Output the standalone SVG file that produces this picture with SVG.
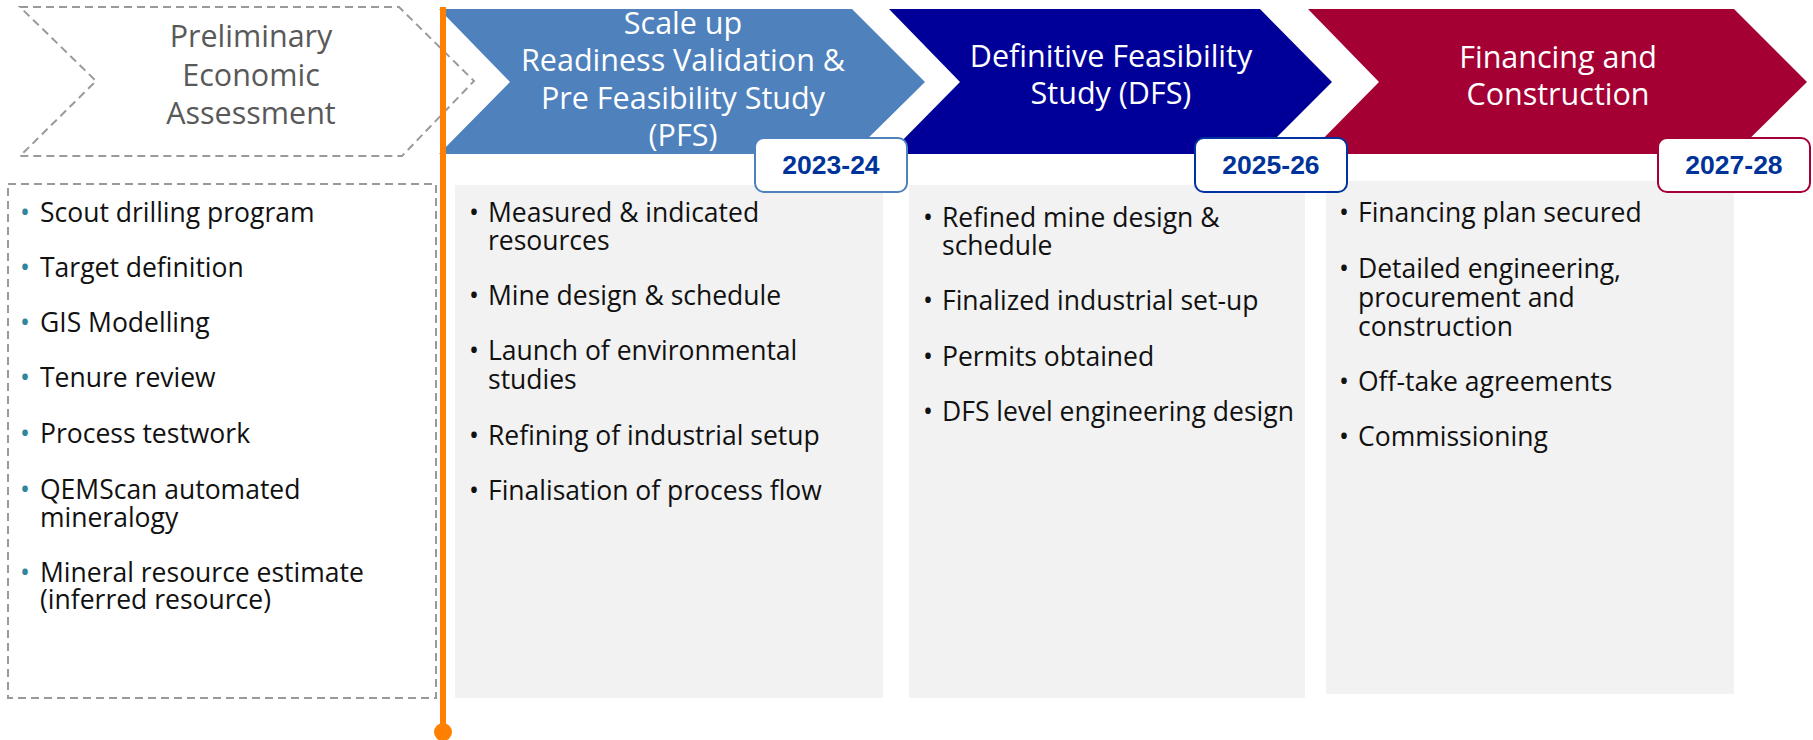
<svg xmlns="http://www.w3.org/2000/svg" width="1813" height="740" viewBox="0 0 1813 740">
<style>
.hd{font-family:"Open Sans","Noto Sans",sans-serif;font-size:30.5px;fill:#fff;text-anchor:middle}
.hdg{font-family:"Open Sans","Noto Sans",sans-serif;font-size:30.5px;fill:#595959;text-anchor:middle}
.bd{font-family:"Open Sans","Noto Sans",sans-serif;font-size:26.5px;fill:#111}
.tb{fill:#31859C}
.yr{font-family:"Liberation Sans",Arial,sans-serif;font-weight:bold;font-size:26.5px;fill:#003399;text-anchor:middle}
.dash{fill:none;stroke:#9a9a9a;stroke-width:2;stroke-dasharray:8 5}
.gbox{fill:#F2F2F2}
.ybox{fill:#fff;stroke-width:2}
</style>
<rect width="1813" height="740" fill="#fff"/>

<g id="pea">
  <path class="dash" d="M20 7 L399 7 L474 81 L402 156 L20 156 L96 81 Z"/>
  <text class="hdg"><tspan x="251" y="47">Preliminary</tspan><tspan x="251" y="86">Economic</tspan><tspan x="251" y="124">Assessment</tspan></text>
</g>
<g id="pea-list">
  <rect class="dash" x="8" y="184" width="428" height="514"/>
  <g class="bd">
    <text y="222"><tspan class="tb" x="20">•</tspan><tspan x="40">Scout drilling program</tspan></text>
    <text y="277"><tspan class="tb" x="20">•</tspan><tspan x="40">Target definition</tspan></text>
    <text y="332"><tspan class="tb" x="20">•</tspan><tspan x="40">GIS Modelling</tspan></text>
    <text y="387"><tspan class="tb" x="20">•</tspan><tspan x="40">Tenure review</tspan></text>
    <text y="443"><tspan class="tb" x="20">•</tspan><tspan x="40">Process testwork</tspan></text>
    <text y="499"><tspan class="tb" x="20">•</tspan><tspan x="40">QEMScan automated</tspan><tspan x="40" y="527">mineralogy</tspan></text>
    <text y="582"><tspan class="tb" x="20">•</tspan><tspan x="40">Mineral resource estimate</tspan><tspan x="40" y="609">(inferred resource)</tspan></text>
  </g>
</g>

<g id="pfs">
  <path d="M439 9 L852 9 L925 82 L852 154 L439 154 L510 82 Z" fill="#4F81BD"/>
  <text class="hd"><tspan x="683" y="34">Scale up</tspan><tspan x="683" y="71">Readiness Validation &amp;</tspan><tspan x="683" y="109">Pre Feasibility Study</tspan><tspan x="683" y="146">(PFS)</tspan></text>
</g>
<g id="dfs">
  <path d="M889 9 L1260 9 L1332 82 L1260 154 L889 154 L960 82 Z" fill="#000099"/>
  <text class="hd"><tspan x="1111" y="67">Definitive Feasibility</tspan><tspan x="1111" y="104">Study (DFS)</tspan></text>
</g>
<g id="fc">
  <path d="M1308 9 L1734 9 L1807 82 L1734 154 L1308 154 L1379 82 Z" fill="#A50034"/>
  <text class="hd"><tspan x="1558" y="68">Financing and</tspan><tspan x="1558" y="105">Construction</tspan></text>
</g>

<g id="pfs-list">
  <rect class="gbox" x="455" y="185" width="428" height="513"/>
  <g class="bd">
    <text y="222"><tspan x="469">•</tspan><tspan x="488">Measured &amp; indicated</tspan><tspan x="488" y="250">resources</tspan></text>
    <text y="305"><tspan x="469">•</tspan><tspan x="488">Mine design &amp; schedule</tspan></text>
    <text y="360"><tspan x="469">•</tspan><tspan x="488">Launch of environmental</tspan><tspan x="488" y="389">studies</tspan></text>
    <text y="445"><tspan x="469">•</tspan><tspan x="488">Refining of industrial setup</tspan></text>
    <text y="500"><tspan x="469">•</tspan><tspan x="488">Finalisation of process flow</tspan></text>
  </g>
</g>
<g id="dfs-list">
  <rect class="gbox" x="909" y="185" width="396" height="513"/>
  <g class="bd">
    <text y="227"><tspan x="923">•</tspan><tspan x="942">Refined mine design &amp;</tspan><tspan x="942" y="255">schedule</tspan></text>
    <text y="310"><tspan x="923">•</tspan><tspan x="942">Finalized industrial set-up</tspan></text>
    <text y="366"><tspan x="923">•</tspan><tspan x="942">Permits obtained</tspan></text>
    <text y="421"><tspan x="923">•</tspan><tspan x="942">DFS level engineering design</tspan></text>
  </g>
</g>
<g id="fc-list">
  <rect class="gbox" x="1326" y="181" width="408" height="513"/>
  <g class="bd">
    <text y="222"><tspan x="1339">•</tspan><tspan x="1358">Financing plan secured</tspan></text>
    <text y="278"><tspan x="1339">•</tspan><tspan x="1358">Detailed engineering,</tspan><tspan x="1358" y="307">procurement and</tspan><tspan x="1358" y="336">construction</tspan></text>
    <text y="391"><tspan x="1339">•</tspan><tspan x="1358">Off-take agreements</tspan></text>
    <text y="446"><tspan x="1339">•</tspan><tspan x="1358">Commissioning</tspan></text>
  </g>
</g>

<g id="year-2023">
  <rect class="ybox" x="755" y="138" width="152" height="54" rx="9" stroke="#4F81BD"/>
  <text class="yr" x="831" y="174">2023-24</text>
</g>
<g id="year-2025">
  <rect class="ybox" x="1195" y="138" width="152" height="54" rx="9" stroke="#0033A0"/>
  <text class="yr" x="1271" y="174">2025-26</text>
</g>
<g id="year-2027">
  <rect class="ybox" x="1658" y="138" width="152" height="54" rx="9" stroke="#A50034"/>
  <text class="yr" x="1734" y="174">2027-28</text>
</g>

<g id="connectors">
  <line x1="443" y1="7" x2="443" y2="732" stroke="#FF8000" stroke-width="6"/>
  <circle cx="443" cy="732" r="9" fill="#FF8000"/>
</g>
</svg>
